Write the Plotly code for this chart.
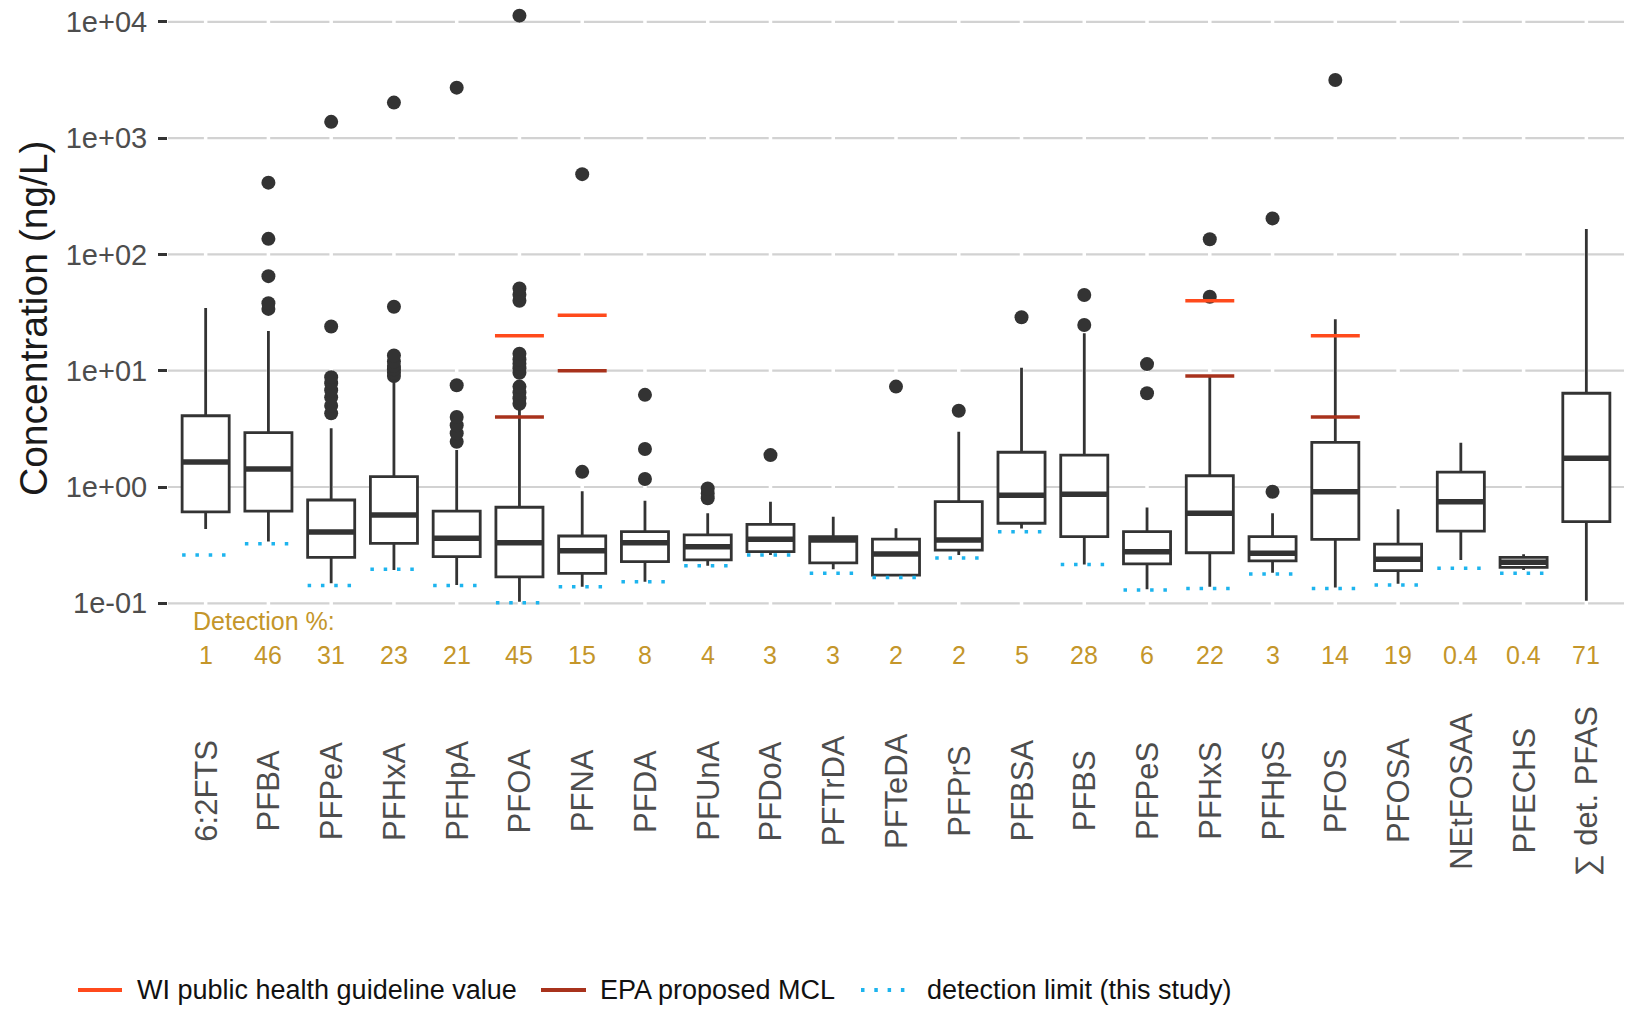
import math
import plotly.graph_objects as go

# ---------------- data ----------------
categories = ["6:2FTS", "PFBA", "PFPeA", "PFHxA", "PFHpA", "PFOA", "PFNA", "PFDA",
              "PFUnA", "PFDoA", "PFTrDA", "PFTeDA", "PFPrS", "PFBSA", "PFBS", "PFPeS",
              "PFHxS", "PFHpS", "PFOS", "PFOSA", "NEtFOSAA", "PFECHS", "∑ det. PFAS"]
detection_pct = ["1", "46", "31", "23", "21", "45", "15", "8", "4", "3", "3", "2", "2",
                 "5", "28", "6", "22", "3", "14", "19", "0.4", "0.4", "71"]

lower_whisker = [0.435, 0.34, 0.149, 0.193, 0.144, 0.103, 0.139, 0.153, 0.21, 0.26, 0.196, 0.175,
                 0.26, 0.44, 0.216, 0.132, 0.139, 0.183, 0.137, 0.147, 0.236, 0.193, 0.105]
q1 = [0.61, 0.62, 0.248, 0.328, 0.252, 0.169, 0.181, 0.228, 0.236, 0.278, 0.223, 0.175,
      0.287, 0.488, 0.374, 0.218, 0.272, 0.232, 0.355, 0.191, 0.418, 0.204, 0.503]
median = [1.64, 1.43, 0.41, 0.574, 0.362, 0.332, 0.283, 0.332, 0.307, 0.355, 0.35, 0.265,
          0.35, 0.848, 0.865, 0.278, 0.594, 0.269, 0.91, 0.239, 0.748, 0.225, 1.77]
q3 = [4.1, 2.93, 0.773, 1.23, 0.62, 0.67, 0.379, 0.413, 0.387, 0.478, 0.374, 0.357,
      0.748, 1.99, 1.88, 0.413, 1.25, 0.374, 2.42, 0.323, 1.34, 0.248, 6.4]
upper_whisker = [34.6, 21.9, 3.2, 8.0, 2.08, 4.85, 0.92, 0.76, 0.594, 0.748, 0.555, 0.441,
                 2.99, 10.6, 21.0, 0.668, 9.06, 0.594, 27.7, 0.643, 2.4, 0.264, 165]
outliers = [
    [],
    [34, 38, 65, 136, 414],
    [4.3, 5.0, 5.9, 6.8, 7.8, 8.8, 24, 1380],
    [9.0, 9.6, 10.3, 11, 12, 13.5, 35.5, 2020],
    [2.45, 2.9, 3.4, 4.0, 7.5, 2715],
    [5.2, 5.8, 6.5, 7.3, 9.6, 10.5, 11.5, 12.5, 14, 40, 45, 51, 11300],
    [1.35, 490],
    [1.17, 2.12, 6.2],
    [0.8, 0.88, 0.97],
    [1.88],
    [],
    [7.3],
    [4.53],
    [28.8],
    [24.7, 44.8],
    [6.4, 11.4],
    [43.3, 135],
    [0.91, 204],
    [3160],
    [],
    [],
    [],
    [],
]
detection_limit = [0.26, 0.325, 0.142, 0.196, 0.142, 0.101, 0.139, 0.153, 0.21, 0.26, 0.181, 0.167,
                   0.245, 0.413, 0.216, 0.13, 0.134, 0.179, 0.134, 0.144, 0.2, 0.181, None]

wi_compounds = ["PFOA", "PFNA", "PFHxS", "PFOS"]
wi_values = [20, 30, 40, 20]
epa_compounds = ["PFOA", "PFNA", "PFHxS", "PFOS"]
epa_values = [4, 10, 9, 4]

y_tick_vals = [0.1, 1, 10, 100, 1000, 10000]
y_tick_text = ["1e-01", "1e+00", "1e+01", "1e+02", "1e+03", "1e+04"]

legend_labels = ["WI public health guideline value", "EPA proposed MCL", "detection limit (this study)"]

# ---------------- styling ----------------
FONT = "Liberation Sans, Arial, sans-serif"
BOX_COLOR = "#333333"
WI_COLOR = "#FF4A1C"
EPA_COLOR = "#A8321C"
DL_COLOR = "#1DB4EE"
GOLD = "#C4962A"
BOX_W = 0.75
HALF = BOX_W / 2
DL_DASH = "3.5px,9.8px"

W, H = 1626, 1009
ML, MR, MT, MB = 168, 2, 0, 394
PW, PH = W - ML - MR, H - MT - MB
Y_LO, Y_HI = -1.1006, 4.1875


def px_x(p):
    return (p - ML) / PW


def px_y(p):
    return (MT + PH - p) / PH


def val_to_paper(v):
    return (math.log10(v) - Y_LO) / (Y_HI - Y_LO)


idx = list(range(len(categories)))
pos = {c: i for i, c in enumerate(categories)}


def segments(xs, ys, half):
    sx, sy = [], []
    for x, y in zip(xs, ys):
        if y is None:
            continue
        sx += [x - half, x + half, None]
        sy += [y, y, None]
    return sx, sy


fig = go.Figure()

fig.add_trace(go.Box(
    x=idx, q1=q1, median=median, q3=q3,
    lowerfence=lower_whisker, upperfence=upper_whisker,
    width=BOX_W, fillcolor="white",
    line=dict(color=BOX_COLOR, width=2.8),
    whiskerwidth=0, boxpoints=False, showlegend=False, hoverinfo="skip",
))

mx, my = segments(idx, median, HALF)
fig.add_trace(go.Scatter(x=mx, y=my, mode="lines",
                         line=dict(color=BOX_COLOR, width=5.5),
                         showlegend=False, hoverinfo="skip"))

ox, oy = [], []
for i, vals in enumerate(outliers):
    for v in vals:
        ox.append(i)
        oy.append(v)
fig.add_trace(go.Scatter(x=ox, y=oy, mode="markers",
                         marker=dict(color=BOX_COLOR, size=14),
                         showlegend=False, hoverinfo="skip"))

dx, dy = segments(idx, detection_limit, HALF)
fig.add_trace(go.Scatter(x=dx, y=dy, mode="lines",
                         line=dict(color=DL_COLOR, width=3.5, dash=DL_DASH),
                         showlegend=False, hoverinfo="skip"))

ex, ey = segments([pos[c] for c in epa_compounds], epa_values, 0.39)
fig.add_trace(go.Scatter(x=ex, y=ey, mode="lines",
                         line=dict(color=EPA_COLOR, width=3.5),
                         showlegend=False, hoverinfo="skip"))

wx, wy = segments([pos[c] for c in wi_compounds], wi_values, 0.39)
fig.add_trace(go.Scatter(x=wx, y=wy, mode="lines",
                         line=dict(color=WI_COLOR, width=3.5),
                         showlegend=False, hoverinfo="skip"))

shapes = []
# horizontal grid lines at the major ticks
for v in y_tick_vals:
    yp = val_to_paper(v)
    shapes.append(dict(type="line", xref="paper", yref="paper", x0=0, x1=1, y0=yp, y1=yp,
                       line=dict(color="#D2D2D2", width=2.2), layer="below"))
# white breaks in the horizontal grid at each category (ggplot-style white x grid)
for i in idx:
    shapes.append(dict(type="line", xref="x", yref="paper", x0=i, x1=i, y0=0, y1=1,
                       line=dict(color="white", width=3.5), layer="below"))

annotations = []
annotations.append(dict(text="Concentration (ng/L)", xref="paper", yref="paper",
                        x=px_x(33), y=px_y(318), textangle=-90, showarrow=False,
                        font=dict(family=FONT, size=39, color="#1A1A1A"),
                        xanchor="center", yanchor="middle"))
annotations.append(dict(text="Detection %:", xref="paper", yref="paper",
                        x=px_x(191), y=px_y(621), showarrow=False,
                        font=dict(family=FONT, size=25, color=GOLD),
                        xanchor="left", yanchor="middle"))
for i, d in enumerate(detection_pct):
    annotations.append(dict(text=d, xref="x", yref="paper", x=i, y=px_y(655),
                            showarrow=False, font=dict(family=FONT, size=25, color=GOLD),
                            xanchor="center", yanchor="middle"))
for i, c in enumerate(categories):
    annotations.append(dict(text=c, xref="x", yref="paper", x=i, y=px_y(791),
                            textangle=-90, showarrow=False,
                            font=dict(family=FONT, size=31, color="#4D4D4D"),
                            xanchor="center", yanchor="middle"))

# legend (manual, bottom)
leg_y = 990
leg_items = [
    (78, 122, 135, WI_COLOR, "solid", legend_labels[0]),
    (541, 586, 598, EPA_COLOR, "solid", legend_labels[1]),
    (861, 907, 925, DL_COLOR, DL_DASH, legend_labels[2]),
]
for x0, x1, tx, col, dash, lab in leg_items:
    shapes.append(dict(type="line", xref="paper", yref="paper",
                       x0=px_x(x0), x1=px_x(x1), y0=px_y(leg_y), y1=px_y(leg_y),
                       line=dict(color=col, width=4, dash=dash)))
    annotations.append(dict(text=lab, xref="paper", yref="paper", x=px_x(tx), y=px_y(leg_y),
                            showarrow=False, font=dict(family=FONT, size=27, color="#111111"),
                            xanchor="left", yanchor="middle"))

fig.update_layout(
    template="none",
    width=W, height=H,
    margin=dict(l=ML, r=MR, t=MT, b=MB, pad=0),
    paper_bgcolor="white", plot_bgcolor="white",
    font=dict(family=FONT),
    showlegend=False,
    shapes=shapes,
    annotations=annotations,
    xaxis=dict(range=[-0.6, len(categories) - 1 + 0.6], showgrid=False, zeroline=False,
               showticklabels=False, ticks="", showline=False, automargin=False),
    yaxis=dict(type="log", range=[Y_LO, Y_HI], tickvals=y_tick_vals, ticktext=y_tick_text,
               showgrid=False, zeroline=False, showline=False,
               ticks="outside", ticklen=9, tickwidth=2.5, tickcolor="#333333",
               ticklabelstandoff=5,
               tickfont=dict(family=FONT, size=29, color="#4D4D4D"), automargin=False),
)

fig.write_html("out.html", config={"displayModeBar": False},
               post_script="document.body.style.margin='0';document.body.style.overflow='hidden';")
